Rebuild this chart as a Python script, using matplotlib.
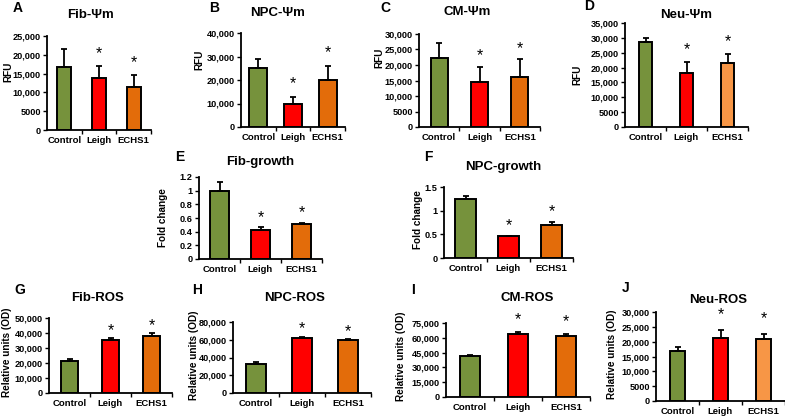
import numpy as np
import matplotlib
matplotlib.use("Agg")
import matplotlib.pyplot as plt
from matplotlib.ticker import FuncFormatter

plt.rcParams['font.family'] = ['Liberation Sans', 'DejaVu Sans']
plt.rcParams['font.weight'] = 'bold'

categories = ["Control", "Leigh", "ECHS1"]

fib_psi = [16800, 13700, 11500]
fib_psi_err = [4700, 3400, 3100]
npc_psi = [25300, 10000, 19800]
npc_psi_err = [3700, 2700, 6100]
cm_psi = [22400, 14400, 16200]
cm_psi_err = [4800, 5000, 5600]
neu_psi = [28600, 18200, 21600]
neu_psi_err = [1300, 3700, 2800]
fib_growth = [1.0, 0.43, 0.51]
fib_growth_err = [0.12, 0.035, 0.02]
npc_growth = [1.25, 0.47, 0.69]
npc_growth_err = [0.05, 0.0, 0.08]
fib_ros = [21300, 35600, 38300]
fib_ros_err = [1700, 1100, 1900]
npc_ros = [32200, 61800, 59500]
npc_ros_err = [2500, 1500, 800]
cm_ros = [41500, 64300, 62000]
cm_ros_err = [1000, 1500, 1500]
neu_ros = [16800, 21300, 20800]
neu_ros_err = [1300, 2800, 1800]

titles = ["Fib-Ψm", "NPC-Ψm", "CM-Ψm", "Neu-Ψm", "Fib-growth", "NPC-growth",
          "Fib-ROS", "NPC-ROS", "CM-ROS", "Neu-ROS"]
letters = ["A", "B", "C", "D", "E", "F", "G", "H", "I", "J"]
ylabels = ["RFU", "RFU", "RFU", "RFU", "Fold change", "Fold change",
           "Relative units (OD)", "Relative units (OD)", "Relative units (OD)", "Relative units (OD)"]
values = [fib_psi, npc_psi, cm_psi, neu_psi, fib_growth, npc_growth,
          fib_ros, npc_ros, cm_ros, neu_ros]
errors = [fib_psi_err, npc_psi_err, cm_psi_err, neu_psi_err, fib_growth_err, npc_growth_err,
          fib_ros_err, npc_ros_err, cm_ros_err, neu_ros_err]
y_max = [25000, 40000, 30000, 35000, 1.2, 1.5, 50000, 80000, 75000, 30000]
y_step_count = [5, 4, 6, 7, 6, 3, 5, 4, 5, 6]

W, H = 785, 417
# layout in pixels: x0, x1, ytop, ybot
boxes = [(47, 151, 36, 130), (241, 345, 33, 127), (419, 540, 34, 127), (625, 748, 23, 127),
         (199, 322, 177, 259), (444, 573, 187, 258),
         (49, 172, 318, 393), (233, 371, 322, 393), (446, 590, 323, 397), (656, 785, 312, 401)]
bar_w = [0.40, 0.52, 0.42, 0.33, 0.44, 0.47, 0.41, 0.43, 0.42, 0.35]
title_pos = [(90, 15), (278, 13), (467, 12), (686, 15), (260, 162), (503, 167),
             (97, 298), (295, 298), (527, 298), (718, 300)]
letter_pos = [(18, 8), (214, 8), (385, 8), (589, 6), (180, 157), (428, 157),
              (20, 290), (197, 290), (413, 290), (626, 288)]
ylabel_pos = [(8, 72), (199, 60), (379, 58), (577, 75), (163, 218), (418, 220),
              (7, 352), (194, 355), (401, 356), (612, 354)]
star_off = [9, 10, 8, 9, 7, 7, 5, 6, 9, 11]

green, red, orange, lorange = "#76923C", "#FF0000", "#E36C0A", "#F79646"
color_sets = [[green, red, orange]] * 3 + [[green, red, lorange]] + [[green, red, orange]] * 5 + [[green, red, lorange]]


def fmt(v, pos):
    if abs(v - round(v)) < 1e-9:
        v = int(round(v))
        return f"{v:,}" if v >= 10000 else f"{v}"
    return f"{v:g}"


fig = plt.figure(figsize=(W / 100, H / 100), dpi=100)
x = np.arange(len(categories))
for k in range(10):
    x0, x1, yt, yb = boxes[k]
    ax = fig.add_axes([x0 / W, 1 - yb / H, (x1 - x0) / W, (yb - yt) / H])
    vals = np.array(values[k], dtype=float)
    errs = np.array(errors[k], dtype=float)
    ax.bar(x, vals, width=bar_w[k], color=color_sets[k], edgecolor="black", linewidth=1.4, zorder=2)
    ax.errorbar(x, vals, yerr=[np.zeros(3), errs], fmt="none", ecolor="black",
                elinewidth=1.3, capsize=2.5, capthick=1.3, zorder=3)
    for i in (1, 2):
        ax.annotate("*", (x[i], vals[i] + errs[i]), xytext=(0, star_off[k]),
                    textcoords="offset points", ha="center", va="center",
                    fontsize=11.5, fontweight="normal", annotation_clip=False)
    ax.set_xlim(-0.5, 2.5)
    ax.set_ylim(0, y_max[k])
    ax.set_yticks(np.linspace(0, y_max[k], y_step_count[k] + 1))
    ax.yaxis.set_major_formatter(FuncFormatter(fmt))
    ax.set_xticks(x)
    ax.set_xticklabels(categories)
    ax.set_xticks([0.5, 1.5, 2.5], minor=True)
    ax.tick_params(axis="x", which="major", length=0, pad=4, labelsize=6.8)
    ax.tick_params(axis="x", which="minor", length=3, width=1, direction="out")
    ax.tick_params(axis="y", length=3, width=1, direction="out", pad=1.5, labelsize=6.6)
    for lab in ax.get_xticklabels() + ax.get_yticklabels():
        lab.set_fontweight("bold")
    for s in ("top", "right"):
        ax.spines[s].set_visible(False)
    for s in ("left", "bottom"):
        ax.spines[s].set_linewidth(1.3)
    ax.set_facecolor("none")

    tx, ty = title_pos[k]
    fig.text(tx / W, 1 - ty / H, titles[k], ha="center", va="center", fontsize=9.5, fontweight="bold")
    lx, ly = letter_pos[k]
    fig.text(lx / W, 1 - ly / H, letters[k], ha="center", va="center", fontsize=10, fontweight="bold")
    yx, yy = ylabel_pos[k]
    fig.text(yx / W, 1 - yy / H, ylabels[k], ha="center", va="center", rotation=90,
             fontsize=7.2, fontweight="bold")

fig.savefig("out.png", dpi=100)
